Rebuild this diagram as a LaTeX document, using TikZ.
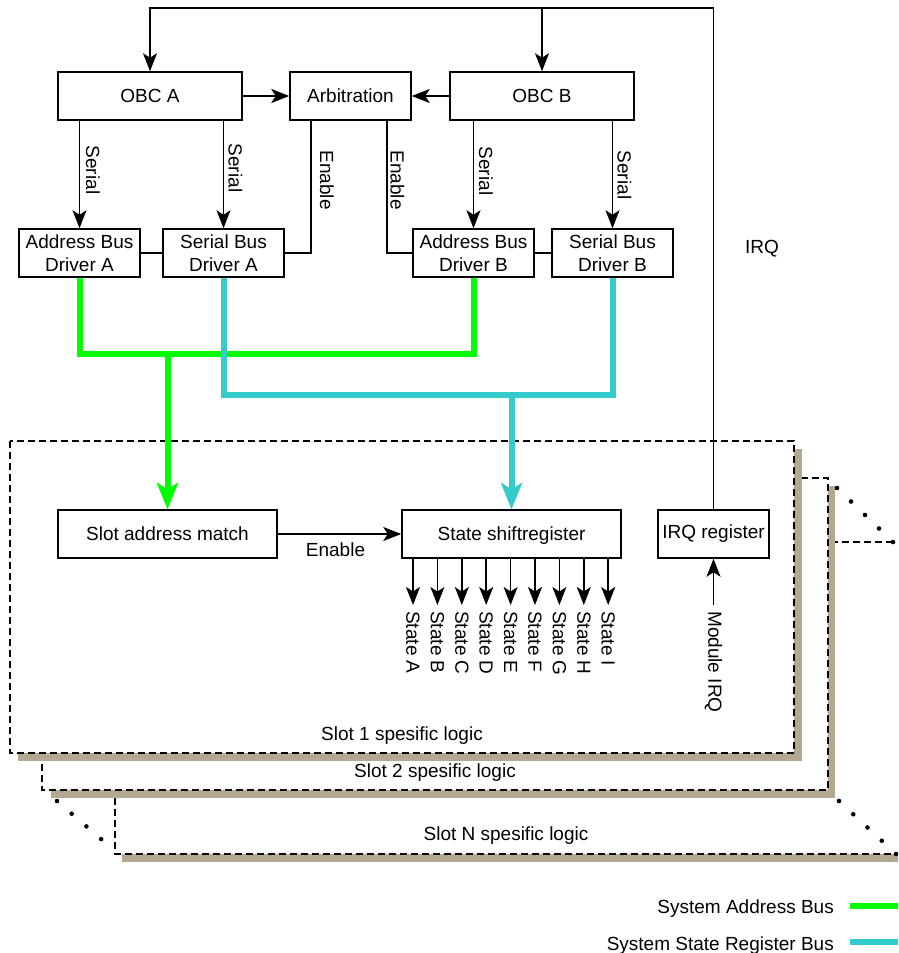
\documentclass[tikz,border=0pt]{standalone}
\usepackage{fontspec}
\setmainfont{Liberation Sans}
\usetikzlibrary{arrows.meta}
\definecolor{addrgreen}{RGB}{0,255,0}
\definecolor{statecyan}{RGB}{51,204,204}
\definecolor{slotshadow}{RGB}{180,168,146}

\begin{document}
\begin{tikzpicture}[x=1pt,y=-1pt,
  font=\fontsize{19}{23}\selectfont,
  box/.style={draw, line width=1.5pt, fill=white, minimum height=48pt, inner sep=0pt, align=center},
  wire/.style={line width=1.5pt},
  arr/.style={wire, -{Stealth[length=18pt,width=14pt,inset=4.5pt]}},
  busarr/.style={-{Stealth[length=27pt,width=22pt,inset=7pt,line width=0pt]}},
  addrbus/.style={draw=addrgreen, line width=6pt},
  statebus/.style={draw=statecyan, line width=6pt},
  sidelbl/.style={rotate=-90, inner sep=0pt},
  statelbl/.style={rotate=-90, anchor=west, inner xsep=6pt, inner ysep=0pt},
  slotline/.style={line width=1.4pt, dash pattern=on 7pt off 4pt},
  slotlbl/.style={anchor=base, inner sep=0pt},
  dot/.style={fill=black}
]
% page
\fill[white] (0,0) rectangle (898,953);
\useasboundingbox (0,0) rectangle (898,953);

% ---- slot cards, back to front ----
% Slot N
\fill[slotshadow] (122,550) rectangle (898,862);
\fill[white] (115,542) rectangle (898,854);
\draw[slotline] (893,542) -- (115,542) -- (115,854) -- (896,854);
\node[slotlbl] (slotNlbl) at (506,840) {Slot N spesific logic};
% Slot 2
\fill[slotshadow] (51,486) rectangle (835,798);
\draw[slotline, fill=white] (42,478) rectangle (828,790);
\node[slotlbl] (slot2lbl) at (435,777) {Slot 2 spesific logic};
% Slot 1
\fill[slotshadow] (18,449) rectangle (802,761);
\draw[slotline, fill=white] (10,441) rectangle (794,753);
\node[slotlbl] (slot1lbl) at (402,740) {Slot 1 spesific logic};

% "more slots" dots
\foreach \t in {0,...,4} \fill[dot] ({837+14*\t},{488+13.5*\t}) circle (2.3pt);
\foreach \t in {0,...,4} \fill[dot] ({839+14.25*\t},{801+13.25*\t}) circle (2.3pt);
\foreach \t in {0,...,3} \fill[dot] ({57+14.7*\t},{801+12.7*\t}) circle (2.3pt);

% ---- controllers ----
\node[box, minimum width=184pt] (obcA) at (150,96) {OBC A};
\node[box, minimum width=121pt] (arb) at (350.5,96) {Arbitration};
\node[box, minimum width=184pt] (obcB) at (542,96) {OBC B};

\node[box, minimum width=121pt] (adA) at (79.5,253) {Address Bus\\Driver A};
\node[box, minimum width=121pt] (sdA) at (223.5,253) {Serial Bus\\Driver A};
\node[box, minimum width=121pt] (adB) at (473.5,253) {Address Bus\\Driver B};
\node[box, minimum width=121pt] (sdB) at (612.5,253) {Serial Bus\\Driver B};

% ---- slot logic ----
\node[box, minimum width=219pt] (sam) at (167.5,534) {Slot address match};
\node[box, minimum width=219pt, text depth=0pt] (ssr) at (511.5,534) {State shiftregister};
\node[box, minimum width=111pt] (irq) at (713.5,534) {IRQ register};

% ---- control connections ----
\draw[arr] (obcA) -- (arb);
\draw[arr] (obcB) -- (arb);
\draw[arr] (adA.north |- obcA.south) -- (adA.north);
\draw[arr] (sdA.north |- obcA.south) -- (sdA.north);
\draw[arr] (adB.north |- obcB.south) -- (adB.north);
\draw[arr] (sdB.north |- obcB.south) -- (sdB.north);
\draw[wire] (adA) -- (sdA);
\draw[wire] (adB) -- (sdB);
\draw[wire] ([xshift=-39.5pt]arb.south) |- (sdA.east);
\draw[wire] ([xshift=36.5pt]arb.south) |- (adB.west);

\node[sidelbl] (serA1) at (93,170) {Serial};
\node[sidelbl] (serA2) at (235.5,168) {Serial};
\node[sidelbl] (serB1) at (486,171) {Serial};
\node[sidelbl] (serB2) at (624.5,175) {Serial};
\node[sidelbl] (enA) at (327,180) {Enable};
\node[sidelbl] (enB) at (397.5,180) {Enable};

% IRQ loop back to both controllers
\coordinate (loopR) at (713.5,8);
\coordinate (loopL) at (150,8);
\draw[arr] (irq.north) -- (loopR) -- (loopL) -- (obcA.north);
\draw[arr] (obcB.north |- loopL) -- (obcB.north);
\node (irqlbl) at (762,249) {IRQ};

% ---- system buses ----
\coordinate (gy) at (0,354);
\coordinate (cy) at (0,395);
\draw[addrbus] (adA.south) -- (adA.south |- gy) -- (adB.south |- gy) -- (adB.south);
\draw[addrbus, busarr] (sam.north |- gy) -- (sam.north);
\draw[statebus] (sdA.south) -- (sdA.south |- cy) -- (sdB.south |- cy) -- (sdB.south);
\draw[statebus, busarr] (ssr.north |- cy) -- (ssr.north);

% ---- inside the slot ----
\draw[arr] (sam) -- (ssr);
\node (enSlot) at (335.5,550) {Enable};

\foreach \s [count=\i from 0] in {A,B,C,D,E,F,G,H,I} {
  \node[statelbl] (st\s) at ({413+24.4*\i},605) {State \s};
  \draw[arr] (ssr.south -| st\s.west) -- (st\s.west);
}

\node[statelbl] (modirq) at (713.5,605) {Module IRQ};
\draw[arr] (modirq.west) -- (irq.south);

% ---- legend ----
\node[anchor=base east, inner sep=0pt] (lgA) at (834,913) {System Address Bus};
\node[anchor=base east, inner sep=0pt] (lgS) at (834,950) {System State Register Bus};
\coordinate (lgA1) at (850,906);
\coordinate (lgA2) at (898,906);
\coordinate (lgS1) at (850,942);
\coordinate (lgS2) at (898,942);
\draw[addrbus] (lgA1) -- (lgA2);
\draw[statebus] (lgS1) -- (lgS2);
\end{tikzpicture}
\end{document}
